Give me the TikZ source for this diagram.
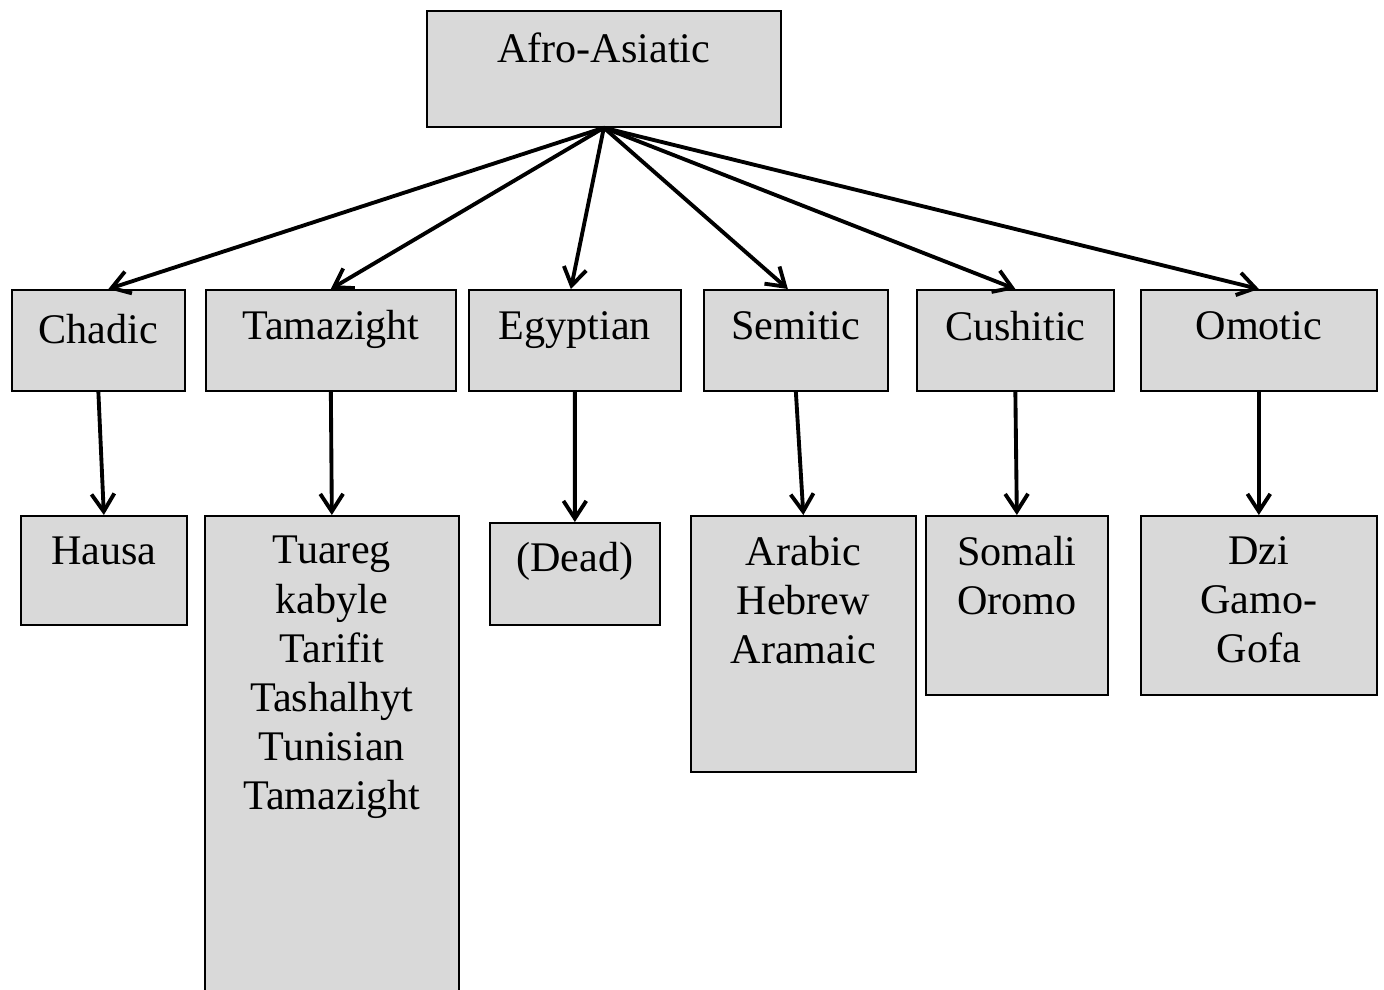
\documentclass[tikz,border=0pt]{standalone}
\usepackage{fontspec}
\setmainfont{Liberation Serif}
\usetikzlibrary{arrows.meta}
\definecolor{boxgray}{RGB}{217,217,217}
\begin{document}
\begin{tikzpicture}[x=0.02cm, y=-0.02cm,
    box/.style={draw, line width=1pt, fill=boxgray, inner sep=0pt, anchor=north west},
    txt/.style={anchor=north, inner sep=0pt, align=center, font=\fontsize{24}{28}\selectfont},
    arr/.style={-{Straight Barb[length=10pt, width=13pt]}, line width=2.2pt}]

    % 画布大小
    \useasboundingbox (0,0) rectangle (1384,990);

    % 顶层
    \node[box, minimum width=7.08cm, minimum height=2.32cm] (afro) at (426,10) {};
    \node[txt] (afro-txt) at ([yshift=-0.44cm]afro.north) {Afro-Asiatic};

    % 第二层 (语族)
    \node[box, minimum width=3.46cm, minimum height=2.02cm] (chadic) at (11,289) {};
    \node[box, minimum width=5.00cm, minimum height=2.02cm] (tamaz) at (205,289) {};
    \node[box, minimum width=4.24cm, minimum height=2.02cm] (egypt) at (468,289) {};
    \node[box, minimum width=3.68cm, minimum height=2.02cm] (semit) at (703,289) {};
    \node[box, minimum width=3.94cm, minimum height=2.02cm] (cush) at (916,289) {};
    \node[box, minimum width=4.72cm, minimum height=2.02cm] (omot) at (1140,289) {};

    \node[txt] (chadic-txt) at ([yshift=-0.50cm]chadic.north) {Chadic};
    \node[txt] (tamaz-txt) at ([yshift=-0.42cm]tamaz.north) {Tamazight};
    \node[txt] (egypt-txt) at ([yshift=-0.44cm]egypt.north) {Egyptian};
    \node[txt] (semit-txt) at ([yshift=-0.44cm]semit.north) {Semitic};
    \node[txt] (cush-txt) at ([yshift=-0.44cm]cush.north) {Cushitic};
    \node[txt] (omot-txt) at ([yshift=-0.44cm]omot.north) {Omotic};

    % 第三层 (语言)
    \node[box, minimum width=3.32cm, minimum height=2.18cm] (hausa) at (20,515) {};
    \node[box, minimum width=5.08cm, minimum height=9.52cm] (tuareg) at (204,515) {};
    \node[box, minimum width=3.40cm, minimum height=2.04cm] (dead) at (489,522) {};
    \node[box, minimum width=4.50cm, minimum height=5.12cm] (arabic) at (690,515) {};
    \node[box, minimum width=3.64cm, minimum height=3.58cm] (somali) at (925,515) {};
    \node[box, minimum width=4.72cm, minimum height=3.58cm] (dzi) at (1140,515) {};

    \node[txt] (hausa-txt) at ([yshift=-0.44cm]hausa.north) {Hausa};
    \node[txt] (tuareg-txt) at ([yshift=-0.42cm]tuareg.north) {Tuareg\\kabyle\\Tarifit\\Tashalhyt\\Tunisian\\Tamazight};
    \node[txt] (dead-txt) at ([yshift=-0.40cm]dead.north) {(Dead)};
    \node[txt] (arabic-txt) at ([yshift=-0.42cm]arabic.north) {Arabic\\Hebrew\\Aramaic};
    \node[txt] (somali-txt) at ([yshift=-0.42cm]somali.north) {Somali\\Oromo};
    \node[txt] (dzi-txt) at ([yshift=-0.42cm]dzi.north) {Dzi\\Gamo-\\Gofa};

    % 箭头: 顶层 -> 语族
    \draw[arr] (afro.south) -- ([xshift=0.2cm]chadic.north);
    \draw[arr] (afro.south) -- (tamaz.north);
    \draw[arr] (afro.south) -- ([xshift=-0.08cm]egypt.north);
    \draw[arr] (afro.south) -- ([xshift=-0.16cm]semit.north);
    \draw[arr] (afro.south) -- (cush.north);
    \draw[arr] (afro.south) -- (omot.north);

    % 箭头: 语族 -> 语言
    \draw[arr] (chadic.south) -- (hausa.north);
    \draw[arr] (tamaz.south) -- (tuareg.north);
    \draw[arr] (egypt.south) -- (dead.north);
    \draw[arr] (semit.south) -- (arabic.north);
    \draw[arr] (cush.south) -- (somali.north);
    \draw[arr] (omot.south) -- (dzi.north);
\end{tikzpicture}
\end{document}
